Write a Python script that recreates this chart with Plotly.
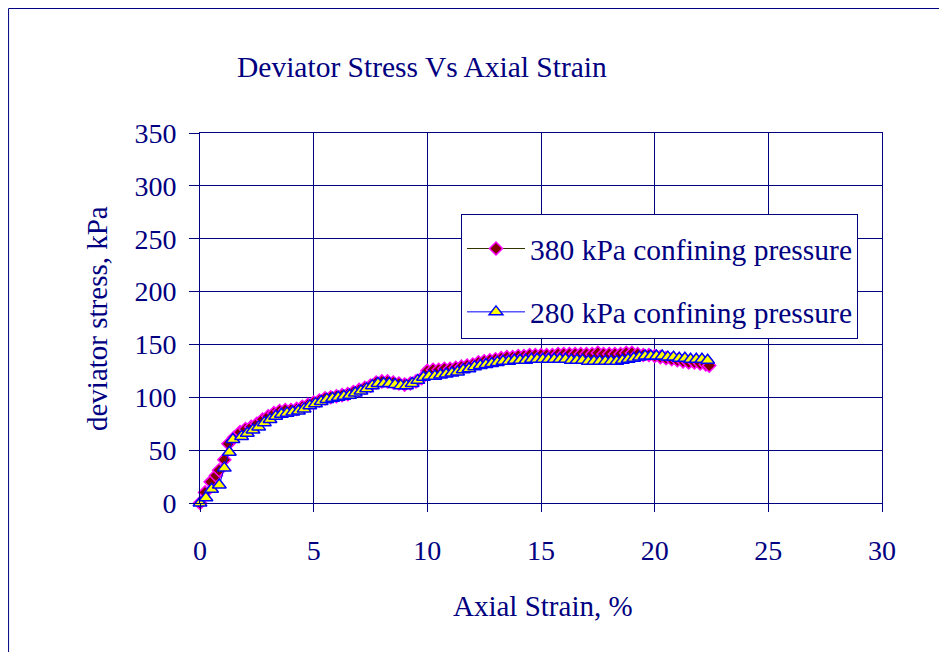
import plotly.graph_objects as go

# 380 kPa confining pressure (diamonds)
strain_380 = [0, 0.22, 0.47, 0.7, 0.84, 1.07, 1.25, 1.5, 1.76, 2.0,
              2.25, 2.5, 2.75, 3.0, 3.25, 3.5, 3.75, 4.0, 4.25, 4.5,
              4.75, 5.0, 5.25, 5.5, 5.75, 6.0, 6.25, 6.5, 6.75, 7.0,
              7.25, 7.5, 7.75, 8.0, 8.25, 8.5, 8.75, 9.0, 9.25, 9.5,
              9.75, 10.0, 10.25, 10.5, 10.75, 11.0, 11.25, 11.5, 11.75, 12.0,
              12.25, 12.5, 12.75, 13.0, 13.25, 13.5, 13.75, 14.0, 14.25, 14.5,
              14.75, 15.0, 15.25, 15.5, 15.75, 16.0, 16.25, 16.5, 16.75, 17.0,
              17.25, 17.5, 17.75, 18.0, 18.25, 18.5, 18.75, 19.0, 19.25, 19.5,
              19.75, 20.0, 20.25, 20.5, 20.75, 21.0, 21.25, 21.5, 21.75, 22.0,
              22.25, 22.4]
stress_380 = [0, 10, 20, 26, 31, 41, 56, 62, 67, 70,
              72, 75, 79, 82, 85, 87, 88, 88, 89, 91,
              93, 95, 97, 99, 100, 101, 102, 103, 105, 107,
              109, 111, 114, 115, 115, 114, 113, 112, 113, 115,
              118, 125, 126, 126, 127, 127, 128, 129, 130, 131,
              133, 134, 135, 136, 137, 138, 138, 139, 139, 140,
              140, 140, 140, 140, 141, 141, 141, 141, 141, 141,
              141, 142, 141, 141, 141, 141, 142, 142, 141, 140,
              140, 139, 138, 137, 136, 135, 134, 133, 133, 132,
              131, 130]

# 280 kPa confining pressure (triangles)
strain_280 = [0, 0.26, 0.51, 0.85, 1.07, 1.29, 1.45, 1.83, 2.08, 2.33,
              2.58, 2.83, 3.08, 3.33, 3.58, 3.83, 4.08, 4.33, 4.58, 4.83,
              5.08, 5.33, 5.58, 5.83, 6.08, 6.33, 6.58, 6.83, 7.08, 7.33,
              7.58, 7.83, 8.08, 8.33, 8.58, 8.83, 9.08, 9.33, 9.58, 9.83,
              10.08, 10.33, 10.58, 10.83, 11.08, 11.33, 11.58, 11.83, 12.08, 12.33,
              12.58, 12.83, 13.08, 13.33, 13.58, 13.83, 14.08, 14.33, 14.58, 14.83,
              15.08, 15.33, 15.58, 15.83, 16.08, 16.33, 16.58, 16.83, 17.08, 17.33,
              17.58, 17.83, 18.08, 18.33, 18.58, 18.83, 19.08, 19.33, 19.58, 19.83,
              20.08, 20.33, 20.58, 20.83, 21.08, 21.33, 21.58, 21.83, 22.08, 22.33]
stress_280 = [0, 5, 13, 17, 33, 48, 60, 63, 66, 69,
              72, 76, 79, 82, 84, 85, 86, 87, 89, 92,
              94, 96, 98, 99, 100, 101, 102, 104, 106, 108,
              111, 113, 113, 113, 112, 111, 111, 113, 116, 119,
              120, 120, 121, 122, 123, 124, 126, 127, 129, 130,
              131, 132, 133, 134, 134, 135, 135, 135, 136, 136,
              136, 136, 136, 136, 136, 135, 135, 135, 134, 134,
              134, 134, 134, 134, 135, 136, 137, 138, 139, 139,
              139, 139, 138, 138, 137, 137, 136, 136, 136, 135]

navy = '#000080'
fnt = 'Liberation Serif, DejaVu Serif, serif'

fig = go.Figure()

fig.add_trace(go.Scatter(
    x=strain_380, y=stress_380,
    mode='lines+markers',
    name='380 kPa confining pressure',
    legendgroup='a',
    cliponaxis=False,
    line=dict(color='#333300', width=1),
    marker=dict(symbol='diamond', size=10, color='#800000',
                line=dict(color='#FF00FF', width=1.5)),
))

fig.add_trace(go.Scatter(
    x=strain_280, y=stress_280,
    mode='lines+markers',
    name='280 kPa confining pressure',
    legendgroup='b',
    cliponaxis=False,
    line=dict(color='#0000FF', width=1),
    marker=dict(symbol='triangle-up', size=12, color='#FFFF00',
                line=dict(color='#0000FF', width=1.5)),
))

# chart frame, in plot-area fractions (page body adds an 8px offset)
fig.add_shape(type='rect', xref='paper', yref='paper',
              x0=-0.2807, x1=1.3, y0=-0.5, y1=1.3365,
              line=dict(color=navy, width=1), layer='below')

fig.update_layout(
    width=947, height=652,
    margin=dict(l=192, r=73, t=125, b=157),
    paper_bgcolor='white',
    plot_bgcolor='white',
    font=dict(family=fnt, color=navy, size=28),
    showlegend=True,
    legend=dict(
        x=0.3827, y=0.781, xanchor='left', yanchor='top',
        bgcolor='white', bordercolor=navy, borderwidth=1,
        font=dict(family=fnt, size=29.5, color=navy),
        title=dict(text=' ', font=dict(size=6)),
        traceorder='grouped', tracegroupgap=22,
        itemwidth=58,
    ),
    xaxis=dict(
        range=[0, 30], dtick=5, tick0=0,
        showgrid=True, gridcolor=navy, gridwidth=1,
        zeroline=False,
        showline=True, linecolor=navy, linewidth=1, mirror=True,
        ticks='outside', ticklen=8, tickcolor=navy,
        ticklabelstandoff=14,
        tickfont=dict(family=fnt, size=28, color=navy),
    ),
    yaxis=dict(
        range=[0, 350], dtick=50, tick0=0,
        showgrid=True, gridcolor=navy, gridwidth=1,
        zeroline=False,
        showline=True, linecolor=navy, linewidth=1, mirror=True,
        ticks='outside', ticklen=10, tickcolor=navy,
        ticklabelstandoff=7,
        tickfont=dict(family=fnt, size=28, color=navy),
    ),
    annotations=[
        dict(text='Deviator Stress Vs Axial Strain', xref='paper', yref='paper',
             x=(422 - 200) / 682, y=(503 - 67) / 370, showarrow=False,
             xanchor='center', yanchor='middle',
             font=dict(family=fnt, size=29.5, color=navy)),
        dict(text='Axial Strain, %', xref='paper', yref='paper',
             x=(543 - 200) / 682, y=(503 - 606) / 370, showarrow=False,
             xanchor='center', yanchor='middle',
             font=dict(family=fnt, size=29, color=navy)),
        dict(text='deviator stress, kPa', xref='paper', yref='paper',
             x=(97 - 200) / 682, y=(503 - 319) / 370, showarrow=False,
             textangle=-90, xanchor='center', yanchor='middle',
             font=dict(family=fnt, size=29, color=navy)),
    ],
)

fig.write_html("out.html")
